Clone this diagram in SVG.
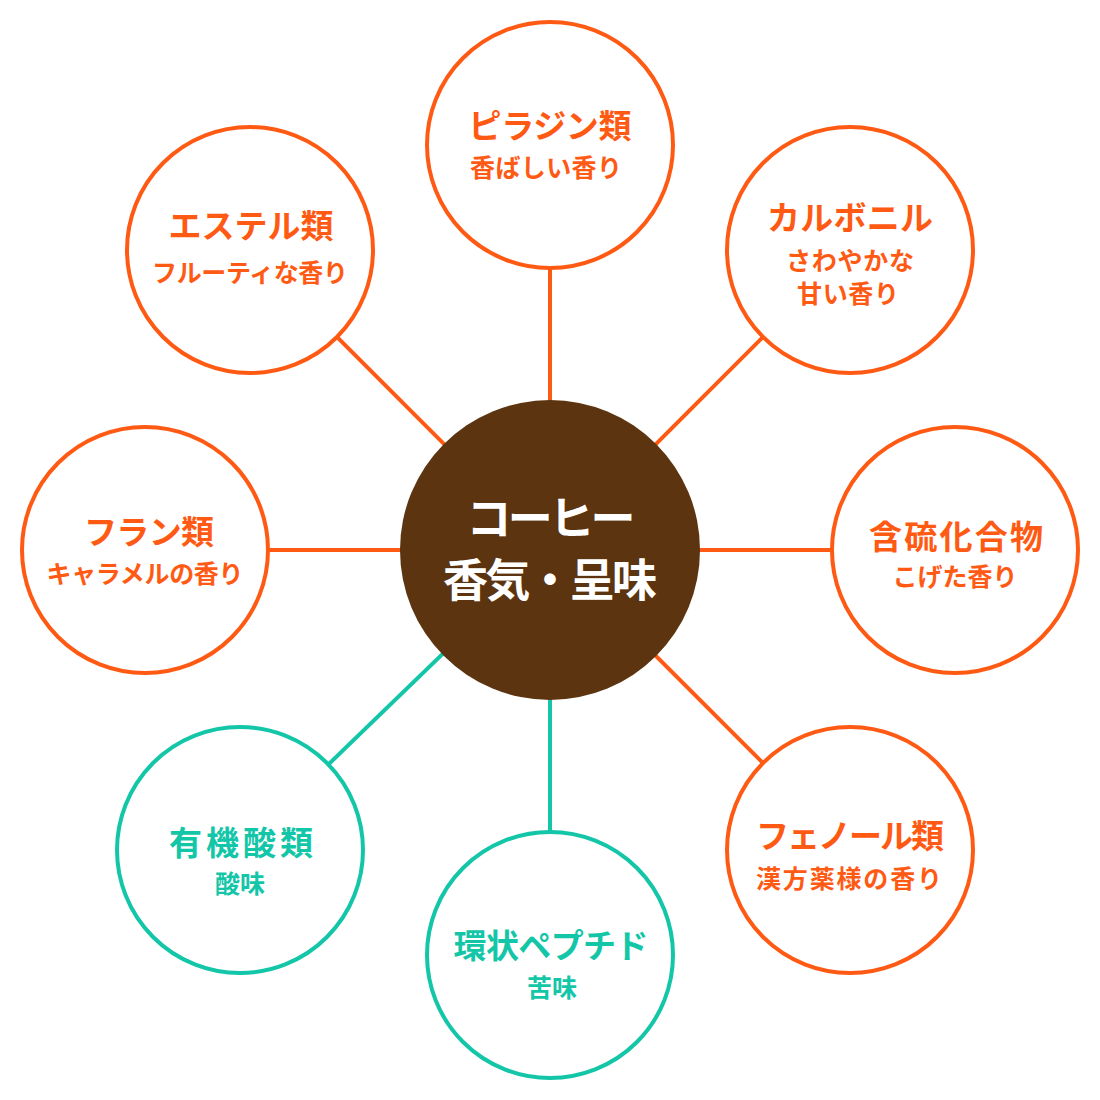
<svg xmlns="http://www.w3.org/2000/svg" width="1100" height="1100" viewBox="0 0 1100 1100">
<style>
.o{fill:#fff;stroke:#FF5A14;stroke-width:4}
.g{fill:#fff;stroke:#14C6A8;stroke-width:4}
.lo{stroke:#FF5A14;stroke-width:4}
.lg{stroke:#14C6A8;stroke-width:4}
text{font-family:"Noto Sans CJK JP","Noto Sans CJK SC",sans-serif;font-weight:700;text-anchor:middle}
.to{fill:#FF5A14;font-size:33px}
.so{fill:#FF5A14;font-size:25px}
.tg{fill:#14C6A8;font-size:33px}
.sg{fill:#14C6A8;font-size:25px}
.c{fill:#fff;font-size:45px}
</style>
<rect width="1100" height="1100" fill="#fff"/>
<g id="connectors">
<line class="lo" x1="550" y1="550" x2="550" y2="145"/>
<line class="lo" x1="550" y1="550" x2="850" y2="250"/>
<line class="lo" x1="550" y1="550" x2="955" y2="550"/>
<line class="lo" x1="550" y1="550" x2="850" y2="850"/>
<line class="lg" x1="550" y1="550" x2="550" y2="955"/>
<line class="lg" x1="550" y1="550" x2="240" y2="850"/>
<line class="lo" x1="550" y1="550" x2="145" y2="550"/>
<line class="lo" x1="550" y1="550" x2="250" y2="250"/>
</g>
<g id="center">
<circle cx="550" cy="550" r="150" fill="#5C340F"/>
<text class="c" x="551" y="535" textLength="169" lengthAdjust="spacing">コーヒー</text>
<text class="c" x="550" y="597" textLength="214" lengthAdjust="spacing">香気・呈味</text>
</g>
<g id="pyrazine">
<circle class="o" cx="550" cy="145" r="123"/>
<text class="to" x="550" y="138" textLength="163" lengthAdjust="spacing">ピラジン類</text>
<text class="so" x="546" y="177" textLength="152" lengthAdjust="spacing">香ばしい香り</text>
</g>
<g id="carbonyl">
<circle class="o" cx="850" cy="250" r="123"/>
<text class="to" x="850" y="230" textLength="166" lengthAdjust="spacing">カルボニル</text>
<text class="so" x="850" y="270" textLength="128" lengthAdjust="spacing">さわやかな</text>
<text class="so" x="848" y="303" textLength="102" lengthAdjust="spacing">甘い香り</text>
</g>
<g id="sulfur">
<circle class="o" cx="955" cy="550" r="123"/>
<text class="to" x="956" y="549" textLength="174" lengthAdjust="spacing">含硫化合物</text>
<text class="so" x="955" y="586" textLength="125" lengthAdjust="spacing">こげた香り</text>
</g>
<g id="phenol">
<circle class="o" cx="850" cy="850" r="123"/>
<text class="to" x="850" y="848" textLength="188" lengthAdjust="spacing">フェノール類</text>
<text class="so" x="849" y="888" textLength="186" lengthAdjust="spacing">漢方薬様の香り</text>
</g>
<g id="peptide">
<circle class="g" cx="550" cy="955" r="123"/>
<text class="tg" x="551" y="958" textLength="195" lengthAdjust="spacing">環状ペプチド</text>
<text class="sg" x="552" y="997">苦味</text>
</g>
<g id="organic-acid">
<circle class="g" cx="240" cy="850" r="123"/>
<text class="tg" x="241" y="855" textLength="144" lengthAdjust="spacing">有機酸類</text>
<text class="sg" x="240" y="893">酸味</text>
</g>
<g id="furan">
<circle class="o" cx="145" cy="550" r="123"/>
<text class="to" x="149" y="544" textLength="130" lengthAdjust="spacing">フラン類</text>
<text class="so" x="145" y="583" textLength="197" lengthAdjust="spacing">キャラメルの香り</text>
</g>
<g id="ester">
<circle class="o" cx="250" cy="250" r="123"/>
<text class="to" x="251" y="238" textLength="165" lengthAdjust="spacing">エステル類</text>
<text class="so" x="250" y="282" textLength="196" lengthAdjust="spacing">フルーティな香り</text>
</g>
</svg>
